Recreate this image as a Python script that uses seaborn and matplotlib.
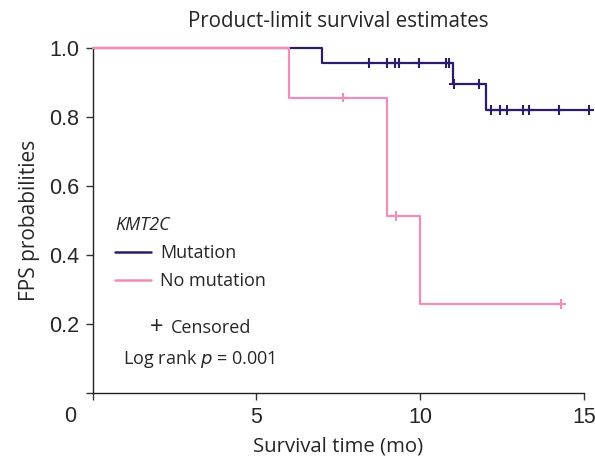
import numpy as np
import pandas as pd
import matplotlib
matplotlib.use('Agg')
import matplotlib.pyplot as plt
import seaborn as sns

# Kaplan-Meier steps
mut_time = [0, 7, 11, 12, 15.15]
mut_surv = [1.0, 0.958, 0.896, 0.82, 0.82]
mut_cens = [8.45, 8.98, 9.24, 9.34, 9.95, 10.79, 10.89, 11.02, 11.78,
            12.16, 12.44, 12.65, 13.13, 13.31, 14.23, 15.15]

nomut_time = [0, 6, 9, 10, 14.3]
nomut_surv = [1.0, 0.857, 0.514, 0.257, 0.257]
nomut_cens = [7.63, 9.25, 14.3]

groups = ['Mutation', 'No mutation']
colors = ['#2e1c6b', '#f28dba']

xticks = [0, 5, 10, 15]
yticks = [0, 0.2, 0.4, 0.6, 0.8, 1.0]


def surv_at(t, times, surv):
    i = np.searchsorted(times, t, side='right') - 1
    return surv[i]


steps = pd.concat([
    pd.DataFrame({'time': mut_time, 'surv': mut_surv, 'group': groups[0]}),
    pd.DataFrame({'time': nomut_time, 'surv': nomut_surv, 'group': groups[1]}),
])
cens = pd.concat([
    pd.DataFrame({'time': mut_cens,
                  'surv': [surv_at(t, mut_time, mut_surv) for t in mut_cens],
                  'group': groups[0]}),
    pd.DataFrame({'time': nomut_cens,
                  'surv': [surv_at(t, nomut_time, nomut_surv) for t in nomut_cens],
                  'group': groups[1]}),
])

sns.set_style('ticks')
plt.rcParams['font.family'] = ['Open Sans', 'DejaVu Sans']

fig = plt.figure(figsize=(5.95, 4.66), dpi=100)
ax = fig.add_axes([0.1558, 0.1573, 0.8257, 0.7391])

pal = dict(zip(groups, colors))
sns.lineplot(data=steps, x='time', y='surv', hue='group', palette=pal,
             drawstyle='steps-post', estimator=None, sort=False,
             linewidth=1.6, ax=ax, hue_order=groups)
sns.scatterplot(data=cens, x='time', y='surv', hue='group', palette=pal,
                marker='+', s=50, linewidth=1.5, ax=ax, legend=False,
                hue_order=groups, zorder=4)
# pink drawn over navy like in the original
for ln in ax.lines:
    ln.set_clip_on(False)
ax.lines[1].set_zorder(3)
for c in ax.collections:
    c.set_clip_on(False)

ax.set_xlim(0, 15)
ax.set_ylim(0, 1.0)
ax.set_xticks(xticks)
ax.set_xticklabels([''] + [str(x) for x in xticks[1:]],
                   fontfamily='Liberation Sans', fontsize=15.5)
ax.set_yticks(yticks)
ax.set_yticklabels([''] + ['%.1f' % y for y in yticks[1:]],
                   fontfamily='Liberation Sans', fontsize=15.5)
# the zero label sits at the corner
ax.annotate('0', xy=(0, 0), xycoords='data', xytext=(-16, -17),
            textcoords='offset points', ha='center', va='center',
            fontfamily='Liberation Sans', fontsize=15.5, color='#262626')
ax.tick_params(length=5, width=1, color='#333333', pad=4.5)
ax.tick_params(axis='x', pad=5.5)
sns.despine(ax=ax)
for s in ['left', 'bottom']:
    ax.spines[s].set_color('#222222')
    ax.spines[s].set_linewidth(1)

ax.set_xlabel('Survival time (mo)', fontsize=14.7, labelpad=6)
ax.set_ylabel('FPS probabilities', fontsize=15, labelpad=7)
ax.set_title('Product-limit survival estimates', fontsize=14.8, pad=15)

leg = ax.legend(title='KMT2C', loc='upper left', bbox_to_anchor=(0.012, 0.56),
                frameon=False, fontsize=13, title_fontsize=13,
                handlelength=2.0, handletextpad=0.5, labelspacing=0.55)
leg.get_title().set_style('italic')
leg._legend_box.align = 'left'
for h in leg.legend_handles:
    h.set_linewidth(1.8)

ax.text(0.1166, 0.188, '+', transform=ax.transAxes, fontsize=17,
        va='center', color='#262626')
ax.text(0.159, 0.188, 'Censored', transform=ax.transAxes, fontsize=13,
        va='center', color='#262626')
ax.text(0.0617, 0.098, 'Log rank $\\it{p}$ = 0.001', transform=ax.transAxes,
        fontsize=13, va='center', color='#262626')

fig.savefig('out.png', dpi=100)
